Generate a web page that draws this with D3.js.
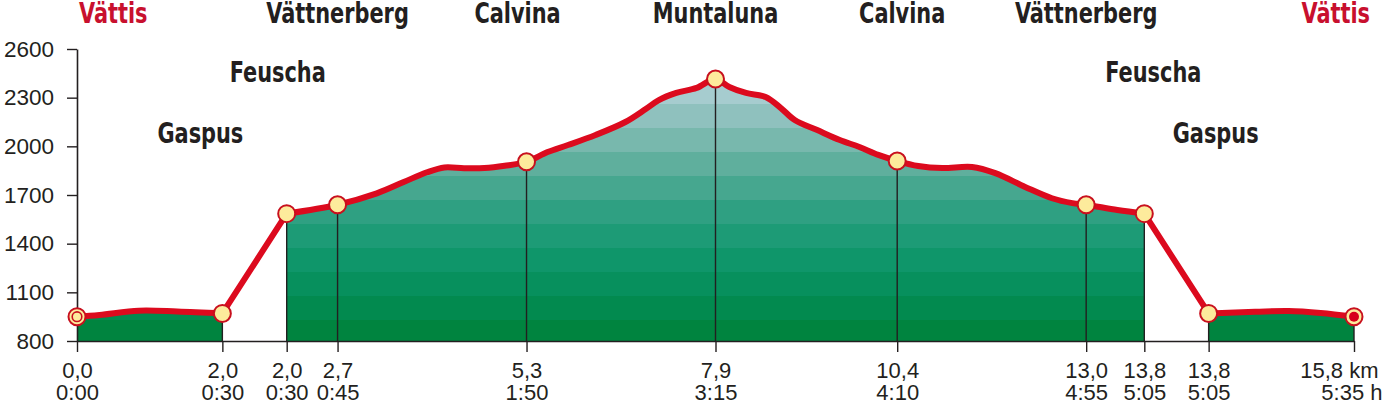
<!DOCTYPE html>
<html>
<head>
<meta charset="utf-8">
<script src="https://cdn.jsdelivr.net/npm/d3@7"></script>
<style>
  html, body { margin: 0; padding: 0; background: #fff; }
  svg { display: block; }
</style>
</head>
<body>
<div id="chart"></div>
<script>
// ---------------- DATA ----------------
const stopNames = ["Vättis", "Gaspus", "Feuscha", "Vättnerberg", "Calvina", "Muntaluna", "Calvina", "Vättnerberg", "Feuscha", "Gaspus", "Vättis"];
const stopKm    = [0.0, 2.0, 2.0, 2.7, 5.3, 7.9, 10.4, 13.0, 13.8, 13.8, 15.8];
const stopTime  = ["0:00", "0:30", "0:30", "0:45", "1:50", "3:15", "4:10", "4:55", "5:05", "5:05", "5:35"];
const stopElev  = [950, 970, 1585, 1640, 1905, 2415, 1910, 1640, 1585, 970, 950];
// route section: 0 = walk Vättis–Gaspus, 1 = hike Feuscha–Feuscha, 2 = walk Gaspus–Vättis (cable car between sections)
const stopSection = [0, 0, 1, 1, 1, 1, 1, 1, 1, 2, 2];

// elevation profile (km along route, metres), per section
const profile0Km   = [0.0, 0.31, 0.85, 1.38, 2.0];
const profile0Elev = [950, 960, 987, 982, 970];
const profile1Km   = [2.0, 2.7, 3.24, 3.61, 3.93, 4.17, 4.44, 4.72, 5.0, 5.3, 5.59, 5.87, 6.25, 6.66, 6.94, 7.12, 7.36, 7.64, 7.9,
                      8.09, 8.32, 8.59, 8.80, 8.99, 9.30, 9.61, 9.88, 10.14, 10.4, 10.69, 11.02, 11.43, 11.75, 12.16, 12.53, 12.81, 13.0, 13.43, 13.8];
const profile1Elev = [1585, 1640, 1710, 1780, 1840, 1870, 1865, 1866, 1880, 1905, 1965, 2008, 2070, 2150, 2230, 2285, 2329, 2360, 2415,
                      2366, 2329, 2304, 2236, 2162, 2100, 2039, 1996, 1947, 1910, 1879, 1866, 1873, 1835, 1750, 1680, 1650, 1640, 1607, 1585];
const profile2Km   = [13.8, 14.44, 14.90, 15.34, 15.8];
const profile2Elev = [970, 980, 985, 973, 950];

const yTicks = [800, 1100, 1400, 1700, 2000, 2300, 2600];
const unitKm = "km";
const unitH = "h";

// ---------------- LAYOUT ----------------
const W = 1384, H = 405;
const cableGap = 0.885; // horizontal room given to each cable-car ride (in km units)
const RED = "#dc0a1e", INK = "#231f20", YEL = "#fdeb9c";

const x = d3.scaleLinear().domain([0, 15.8 + 2 * cableGap]).range([77, 1354]);
const y = d3.scaleLinear().domain([800, 2600]).range([341, 49]);
const pos = (km, sec) => km + sec * cableGap;

const svg = d3.select("#chart").append("svg").attr("width", W).attr("height", H);

// stepped colour bands for the fill
const bandBase = 930, bandStep = 148, nBands = 12;
const bandColor = d3.interpolateRgbBasis(["#00843f", "#049262", "#1f9c7a", "#55ab96", "#8cbfba", "#bcd6e0"]);
const defs = svg.append("defs");
const gy0 = y(800), gy1 = y(bandBase + (nBands - 1) * bandStep);
const grad = defs.append("linearGradient").attr("id", "bands")
  .attr("gradientUnits", "userSpaceOnUse")
  .attr("x1", 0).attr("x2", 0).attr("y1", gy0).attr("y2", gy1);
for (let i = 0; i < nBands; i++) {
  const lo = i === 0 ? 800 : bandBase + (i - 1) * bandStep;
  const hi = bandBase + i * bandStep;
  const c = bandColor(i / (nBands - 1));
  const o0 = (y(lo) - gy0) / (gy1 - gy0), o1 = Math.min(1, (y(hi) - gy0) / (gy1 - gy0));
  grad.append("stop").attr("offset", Math.max(0, o0)).attr("stop-color", c);
  grad.append("stop").attr("offset", o1).attr("stop-color", c);
}

const sections = [
  { km: profile0Km, el: profile0Elev, sec: 0 },
  { km: profile1Km, el: profile1Elev, sec: 1 },
  { km: profile2Km, el: profile2Elev, sec: 2 }
].map(s => ({ sec: s.sec, pts: s.km.map((k, i) => [x(pos(k, s.sec)), y(s.el[i])]) }));

const area = d3.area().x(d => d[0]).y0(y(800)).y1(d => d[1]).curve(d3.curveCatmullRom.alpha(0.5));
const line = d3.line().x(d => d[0]).y(d => d[1]).curve(d3.curveCatmullRom.alpha(0.5));

svg.append("g").selectAll("path").data(sections).join("path")
  .attr("d", s => area(s.pts)).attr("fill", "url(#bands)");

// stops
const stops = stopNames.map((n, i) => ({
  name: n, km: stopKm[i], time: stopTime[i], el: stopElev[i], sec: stopSection[i],
  px: x(pos(stopKm[i], stopSection[i])), py: y(stopElev[i]), i
}));

// vertical drop lines
svg.append("g").selectAll("line").data(stops.slice(1)).join("line")
  .attr("x1", d => d.px).attr("x2", d => d.px)
  .attr("y1", d => d.py).attr("y2", y(800))
  .attr("stroke", INK).attr("stroke-width", 1.4);

// axes
const yAxis = svg.append("g").attr("transform", `translate(${x(0)},0)`)
  .call(d3.axisLeft(y).tickValues(yTicks).tickFormat(d3.format("d")).tickSize(10).tickSizeOuter(0).tickPadding(13));
const xAxis = svg.append("g").attr("transform", `translate(0,${y(800)})`)
  .call(d3.axisBottom(x).tickValues(stops.map(s => pos(s.km, s.sec))).tickSize(11).tickSizeOuter(0).tickFormat(""));
[yAxis, xAxis].forEach(g => {
  g.select(".domain").attr("stroke", INK).attr("stroke-width", 1.6);
  g.selectAll(".tick line").attr("stroke", INK).attr("stroke-width", 1.4);
});
yAxis.selectAll(".tick text")
  .attr("font-family", "'Liberation Sans', Arial, sans-serif").attr("font-size", 22.5).attr("fill", INK);

const fmtKm = d => d3.format(".1f")(d).replace(".", ",");
const xt = xAxis.selectAll(".tick").data(stops);
xt.select("text").remove();
const last = stops.length - 1;
const tickFont = sel => sel
  .attr("font-family", "'Liberation Sans', Arial, sans-serif").attr("font-size", 22).attr("fill", INK)
  .attr("text-anchor", d => d.i === last ? "end" : "middle");
xt.append("text").call(tickFont)
  .attr("x", d => d.i === last ? 24 : 0).attr("y", 37)
  .text(d => d.i === last ? `${fmtKm(d.km)} ${unitKm}` : fmtKm(d.km));
xt.append("text").call(tickFont)
  .attr("x", d => d.i === last ? 28 : 0).attr("y", 59)
  .text(d => d.i === last ? `${d.time} ${unitH}` : d.time);

// red route line: sections + cable-car rides
svg.append("g").selectAll("path").data(sections).join("path")
  .attr("d", s => line(s.pts)).attr("fill", "none")
  .attr("stroke", RED).attr("stroke-width", 6).attr("stroke-linecap", "round").attr("stroke-linejoin", "round");
const cables = [[stops[1], stops[2]], [stops[8], stops[9]]];
svg.append("g").selectAll("line").data(cables).join("line")
  .attr("x1", d => d[0].px).attr("y1", d => d[0].py).attr("x2", d => d[1].px).attr("y2", d => d[1].py)
  .attr("stroke", RED).attr("stroke-width", 6).attr("stroke-linecap", "round");

// markers
const mk = svg.append("g").selectAll("g").data(stops).join("g")
  .attr("transform", d => `translate(${d.px},${d.py})`);
mk.append("circle").attr("r", 8.5).attr("fill", YEL).attr("stroke", "#c8101e").attr("stroke-width", 2);
mk.filter(d => d.i === 0).append("circle").attr("r", 4.8).attr("fill", YEL).attr("stroke", "#c8101e").attr("stroke-width", 1.6);
mk.filter(d => d.i === last).append("circle").attr("r", 5).attr("fill", "#d7001b");

// place-name labels (condensed face, squeezed horizontally)
const squeeze = 0.8;
const rowY = { "Feuscha": 82, "Gaspus": 143 };
const labelShift = { 1: -22, 2: -9, 4: -9, 6: 5, 8: 9, 9: 7 };
svg.append("g").selectAll("text").data(stops).join("text")
  .attr("transform", d => {
    const lx = d.i === 0 ? d.px + 2 : d.i === last ? d.px + 16 : d.px + (labelShift[d.i] || 0);
    return `translate(${lx},${rowY[d.name] || 23}) scale(${squeeze},1)`;
  })
  .attr("text-anchor", d => d.i === 0 ? "start" : d.i === last ? "end" : "middle")
  .attr("font-family", "'DejaVu Sans Condensed', 'DejaVu Sans', sans-serif")
  .attr("font-stretch", "condensed")
  .attr("font-weight", 700)
  .attr("font-size", 29)
  .attr("fill", d => d.name === "Vättis" ? "#c8102e" : INK)
  .text(d => d.name);
</script>
</body>
</html>
